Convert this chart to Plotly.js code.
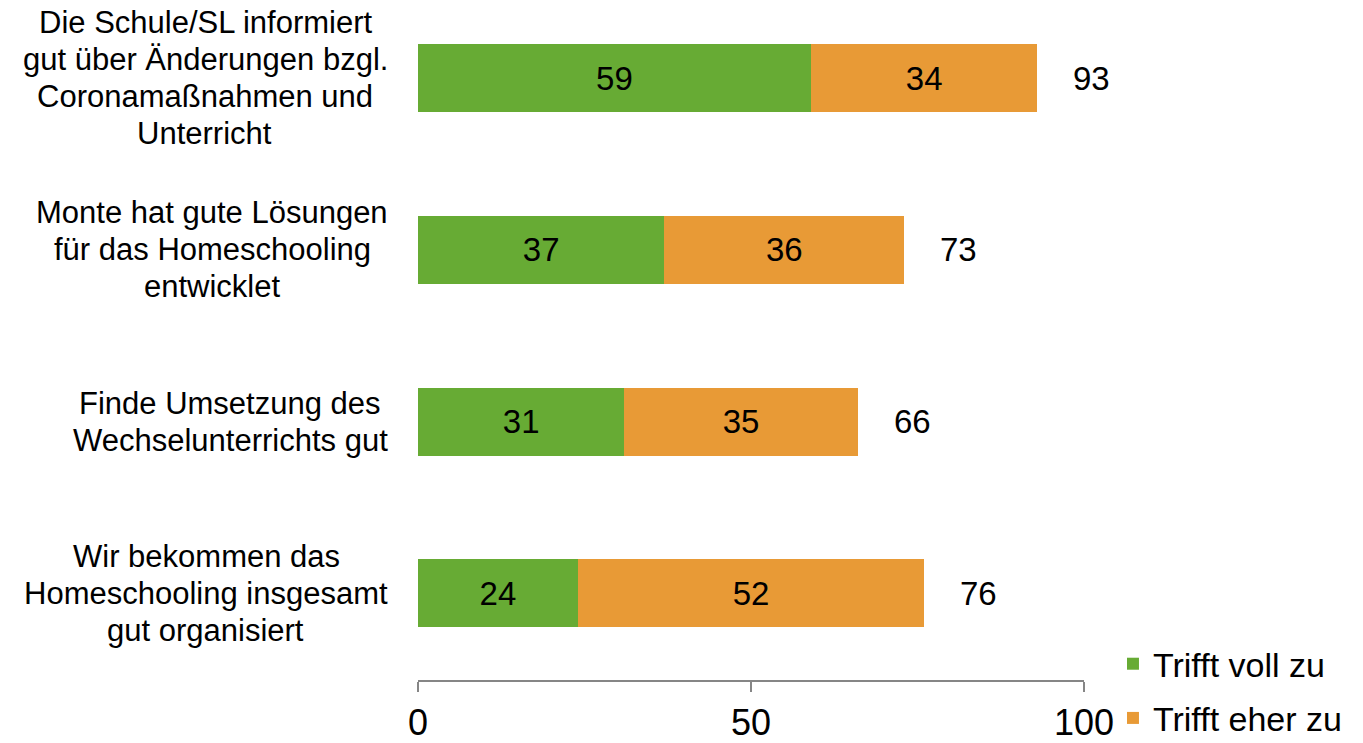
<!DOCTYPE html>
<html>
<head>
<meta charset="utf-8">
<script src="https://cdn.plot.ly/plotly-3.0.1.min.js"></script>
<style>
html,body{margin:0;padding:0;background:#fff;}
#chart{width:1363px;height:743px;}
</style>
</head>
<body>
<div id="chart"></div>
<script>
const categories = [
  "Die Schule/SL informiert<br>gut über Änderungen bzgl.<br>Coronamaßnahmen und<br>Unterricht",
  "Monte hat gute Lösungen<br>für das Homeschooling<br>entwicklet",
  "Finde Umsetzung des<br>Wechselunterrichts gut",
  "Wir bekommen das<br>Homeschooling insgesamt<br>gut organisiert"
];
const seriesNames = ["Trifft voll zu", "Trifft eher zu"];
const trifftVoll = [59, 37, 31, 24];
const trifftEher = [34, 36, 35, 52];
const totals = [93, 73, 66, 76];
const xTicks = [0, 50, 100];

const FONT = '"Liberation Sans", Arial, sans-serif';
const colors = ["#67ab34", "#e89a36"];
const LINE_GAP = 37;
const CAT_SIZE = 31;

const ctx = document.createElement('canvas').getContext('2d');
ctx.font = CAT_SIZE + 'px "Liberation Sans", Arial, sans-serif';
function textW(s) { return ctx.measureText(s).width; }

const traces = [trifftVoll, trifftEher].map((vals, k) => ({
  type: 'bar',
  orientation: 'h',
  name: seriesNames[k],
  legendgroup: 'g' + k,
  y: categories,
  x: vals,
  width: 0.396,
  marker: {color: colors[k], line: {width: 0}},
  text: vals.map(String),
  textposition: 'inside',
  insidetextanchor: 'middle',
  textangle: 0,
  constraintext: 'none',
  insidetextfont: {family: FONT, size: 33, color: '#000'},
  hoverinfo: 'x+name'
}));

const annotations = [];
categories.forEach((c, i) => {
  const lines = c.split('<br>');
  const n = lines.length;
  const widths = lines.map(textW);
  const maxW = Math.max(...widths);
  lines.forEach((ln, j) => {
    annotations.push({
      xref: 'x', yref: 'y', x: 0, y: c,
      xanchor: 'right', yanchor: 'middle',
      xshift: -28 - (maxW - widths[j]) / 2,
      yshift: ((n - 1) / 2 - j) * LINE_GAP,
      text: ln, showarrow: false,
      font: {family: FONT, size: CAT_SIZE, color: '#000'}
    });
  });
  annotations.push({
    xref: 'x', yref: 'y', x: totals[i], y: c,
    xanchor: 'left', yanchor: 'middle', xshift: 34,
    text: String(totals[i]), showarrow: false,
    font: {family: FONT, size: 33, color: '#000'}
  });
});

const layout = {
  width: 1363, height: 743,
  margin: {l: 418, r: 279, t: 0, b: 63, pad: 0, autoexpand: false},
  paper_bgcolor: '#fff', plot_bgcolor: '#fff',
  barmode: 'stack',
  showlegend: true,
  legend: {
    x: 1.0435, xanchor: 'left', y: 0.066, yanchor: 'top',
    traceorder: 'grouped', tracegroupgap: 7,
    font: {family: FONT, size: 34, color: '#000'},
    bgcolor: 'rgba(0,0,0,0)', borderwidth: 0
  },
  xaxis: {
    range: [0, 100], tickvals: xTicks, ticktext: xTicks.map(String),
    showgrid: false, zeroline: false, automargin: false,
    showline: true, linecolor: '#868686', linewidth: 2,
    ticks: 'outside', ticklen: 10, tickwidth: 2, tickcolor: '#868686',
    tickfont: {family: FONT, size: 36, color: '#000'},
    fixedrange: true
  },
  yaxis: {
    type: 'category', categoryorder: 'array', categoryarray: categories,
    range: [3.504, -0.454], automargin: false,
    showticklabels: false, showgrid: false, zeroline: false,
    showline: false, ticks: '', fixedrange: true
  },
  annotations: annotations,
  font: {family: FONT, color: '#000'}
};

Plotly.newPlot('chart', traces, layout, {displayModeBar: false, staticPlot: true});
</script>
</body>
</html>
